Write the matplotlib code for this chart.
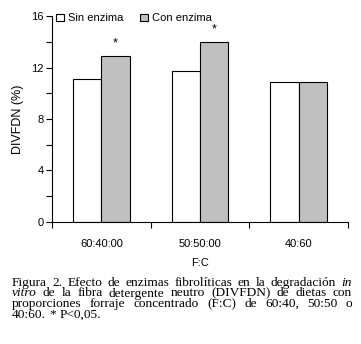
import numpy as np
import matplotlib.pyplot as plt
from matplotlib.patches import Patch

categorias = ["60:40:00", "50:50:00", "40:60"]
sin_enzima = [11.1, 11.7, 10.9]
con_enzima = [12.9, 14.0, 10.85]
significativo = [True, True, False]

caption_lines = [
    [("Figura 2. Efecto de enzimas fibrolíticas en la degradación", "normal"), ("in", "italic")],
    [("vitro", "italic"), ("de la fibra detergente neutro (DIVFDN) de dietas con", "normal")],
    [("proporciones forraje concentrado (F:C) de 60:40, 50:50 o", "normal")],
    [("40:60. * P<0,05.", "normal")],
]

plt.rcParams["font.family"] = ["Liberation Sans", "DejaVu Sans"]

fig = plt.figure(figsize=(3.61, 3.44), dpi=100)
ax = fig.add_axes([0.144, 0.355, 0.82, 0.598])

x = np.arange(len(categorias))
w = 0.286
ax.bar(x - w / 2, sin_enzima, w, color="white", edgecolor="black", linewidth=0.8)
ax.bar(x + w / 2, con_enzima, w, color="#c0c0c0", edgecolor="black", linewidth=0.8)
for xi, v, s in zip(x, con_enzima, significativo):
    if s:
        ax.text(xi + w / 2, v + 0.5, "*", ha="center", va="bottom", fontsize=9)

ax.set_xlim(-0.5, 2.5)
ax.set_ylim(0, 16)
ax.set_yticks([0, 4, 8, 12, 16])
ax.set_yticks([2, 6, 10, 14], minor=True)
ax.set_xticks([-0.5, 0.5, 1.5, 2.5])
ax.set_xticklabels([])
ax.set_xticks(x, minor=True)
ax.set_xticklabels(categorias, minor=True)
ax.tick_params(axis="x", which="minor", length=0, labelsize=8, pad=12)
ax.tick_params(axis="x", which="major", length=4, width=0.8)
ax.tick_params(axis="y", which="both", length=4, width=0.8, labelsize=8, pad=2)
for s in ["top", "right"]:
    ax.spines[s].set_visible(False)
ax.set_ylabel("DIVFDN (%)", fontsize=9, labelpad=5)
ax.set_xlabel("F:C", fontsize=8, labelpad=7)

handles = [Patch(facecolor="white", edgecolor="black", linewidth=0.8, label="Sin enzima"),
           Patch(facecolor="#c0c0c0", edgecolor="black", linewidth=0.8, label="Con enzima")]
ax.legend(handles=handles, loc="upper left", bbox_to_anchor=(0.0, 1.035), ncol=2,
          frameon=False, fontsize=8, handlelength=0.7, handleheight=0.7,
          handletextpad=0.35, columnspacing=1.5, borderaxespad=0)

# caption, justified word by word
fig.canvas.draw()
renderer = fig.canvas.get_renderer()
fs = 9.6
serif = "Liberation Serif"
left, right = 12, 352
ys = [283, 293.5, 304, 314.5]
H = 344


def ancho(s, style="normal"):
    t = fig.text(0, 0, s, fontsize=fs, family=serif, style=style)
    wd = t.get_window_extent(renderer).width
    t.remove()
    return wd


espacio = ancho("a b") - ancho("ab")
for i, (line, y) in enumerate(zip(caption_lines, ys)):
    words = []
    for txt, style in line:
        for wd in txt.split(" "):
            words.append((wd, style))
    widths = [ancho(wd, st) for wd, st in words]
    if i == len(caption_lines) - 1:
        g = espacio
    else:
        g = (right - left - sum(widths)) / (len(words) - 1)
    xpos = left
    for (wd, st), wdt in zip(words, widths):
        fig.text(xpos / 361, 1 - y / H, wd, fontsize=fs, family=serif,
                 style=st, va="center", ha="left")
        xpos += wdt + g

fig.savefig("out.png", dpi=100)
